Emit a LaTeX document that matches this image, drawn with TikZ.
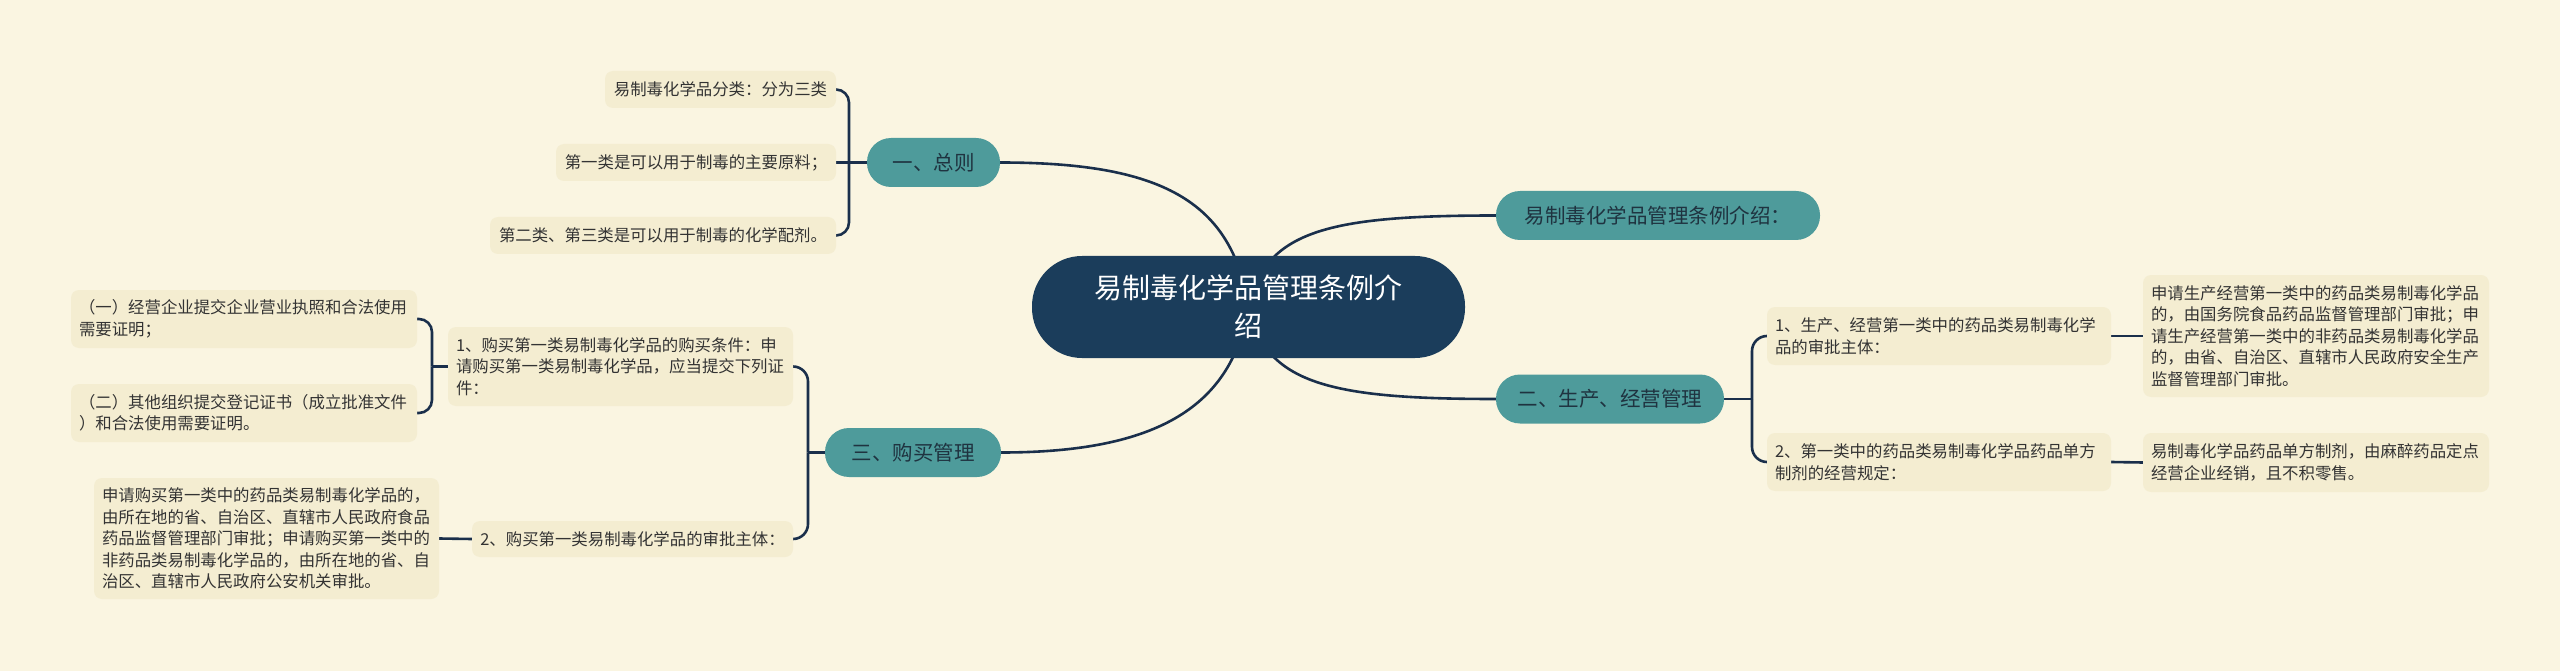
\documentclass[tikz,border=0pt]{standalone}
\usepackage{fontspec}
\setmainfont{Noto Sans CJK SC}
\definecolor{bgc}{HTML}{FAF5E1}
\definecolor{leaff}{HTML}{F4EDD1}
\definecolor{tealf}{HTML}{4E9B9B}
\definecolor{navyf}{HTML}{1B3D5B}
\definecolor{linec}{HTML}{1A2F4B}
\definecolor{txt}{HTML}{333333}
\definecolor{btxt}{HTML}{1F3340}
\pgfdeclarelayer{bg}
\pgfsetlayers{bg,main}
\tikzset{
  leaf/.style={fill=leaff, rounded corners=8pt, inner sep=0pt, text=txt,
    font=\fontsize{16.4}{21.5}\selectfont},
  multi/.style={align=left, text width=#1},
  branch/.style={fill=tealf, rounded corners=24pt, inner sep=0pt, text=btxt,
    font=\fontsize{20.5}{26}\selectfont, minimum height=49pt},
  mainnode/.style={fill=navyf, rounded corners=50pt, text=white, inner sep=0pt,
    font=\fontsize{28}{38}\selectfont, align=center,
    minimum width=433pt, minimum height=102pt},
  conn/.style={draw=linec, line width=2.6pt},
}
\begin{document}
\begin{tikzpicture}[x=1pt,y=-1pt]
\useasboundingbox (0,0) rectangle (2560,671);
% central
\node[mainnode] (main) at (1248.5,307) {易制毒化学品管理条例介\\绍};
% branches
\node[branch, minimum width=133pt] (b1) at (933.5,162.5) {一、总则};
\node[branch, minimum width=176pt] (b3) at (913,452.5) {三、购买管理};
\node[branch, minimum width=324pt] (bi) at (1658,215.5) {易制毒化学品管理条例介绍：};
\node[branch, minimum width=228pt] (b2) at (1610,399) {二、生产、经营管理};
% leaves of b1
\node[leaf, minimum width=231pt, minimum height=37pt] (a1) at (720.5,89.5) {易制毒化学品分类：分为三类};
\node[leaf, minimum width=280pt, minimum height=37pt] (a2) at (696,162.5) {第一类是可以用于制毒的主要原料；};
\node[leaf, minimum width=346pt, minimum height=37pt] (a3) at (663,235.5) {第二类、第三类是可以用于制毒的化学配剂。};
% b3 children
\node[leaf, multi=329pt, minimum width=345pt, minimum height=79pt] (m1) at (620.5,366.5)
  {1、购买第一类易制毒化学品的购买条件：申\\请购买第一类易制毒化学品，应当提交下列证\\件：};
\node[leaf, minimum width=321pt, minimum height=36pt] (m2) at (632.5,539) {2、购买第一类易制毒化学品的审批主体：};
\node[leaf, multi=330pt, minimum width=346pt, minimum height=58pt] (l1) at (244,319)
  {（一）经营企业提交企业营业执照和合法使用\\需要证明；};
\node[leaf, multi=330pt, minimum width=346pt, minimum height=58pt] (l2) at (244,413)
  {（二）其他组织提交登记证书（成立批准文件\\）和合法使用需要证明。};
\node[leaf, multi=329pt, minimum width=345pt, minimum height=121pt] (l3) at (266.5,538.5)
  {申请购买第一类中的药品类易制毒化学品的，\\由所在地的省、自治区、直辖市人民政府食品\\药品监督管理部门审批；申请购买第一类中的\\非药品类易制毒化学品的，由所在地的省、自\\治区、直辖市人民政府公安机关审批。};
% b2 children
\node[leaf, multi=328pt, minimum width=344pt, minimum height=58pt] (r1) at (1939,336)
  {1、生产、经营第一类中的药品类易制毒化学\\品的审批主体：};
\node[leaf, multi=328pt, minimum width=344pt, minimum height=58pt] (r2) at (1939,462)
  {2、第一类中的药品类易制毒化学品药品单方\\制剂的经营规定：};
\node[leaf, multi=330pt, minimum width=346pt, minimum height=122pt] (s1) at (2316,336)
  {申请生产经营第一类中的药品类易制毒化学品\\的，由国务院食品药品监督管理部门审批；申\\请生产经营第一类中的非药品类易制毒化学品\\的，由省、自治区、直辖市人民政府安全生产\\监督管理部门审批。};
\node[leaf, multi=330pt, minimum width=346pt, minimum height=59pt] (s2) at (2316,462.5)
  {易制毒化学品药品单方制剂，由麻醉药品定点\\经营企业经销，且不积零售。};
% junctions
\coordinate (j1) at (849,162.5);
\coordinate (j3) at (808,452.5);
\coordinate (jm) at (432,366.5);
\coordinate (j2) at (1752,399);
\begin{pgfonlayer}{bg}
\fill[bgc] (0,0) rectangle (2560,671);
% central curves
\draw[conn] (main.center) .. controls (1232,200) and (1160,162.5) .. (b1.east);
\draw[conn] (main.center) .. controls (1232,405) and (1160,452.5) .. (b3.east);
\draw[conn] (main.center) .. controls (1265,230) and (1330,215.5) .. (bi.west);
\draw[conn] (main.center) .. controls (1265,384) and (1330,399) .. (b2.west);
% b1 bracket
\draw[conn] (b1.west) -- (j1) -- (a2.east);
\draw[conn, rounded corners=13pt] (j1) |- (a1.east);
\draw[conn, rounded corners=13pt] (j1) |- (a3.east);
% b3 bracket
\draw[conn] (b3.west) -- (j3);
\draw[conn, rounded corners=15pt] (j3) |- (m1.east);
\draw[conn, rounded corners=15pt] (j3) |- (m2.east);
% m1 bracket
\draw[conn] (m1.west) -- (jm);
\draw[conn, rounded corners=13pt] (jm) |- (l1.east);
\draw[conn, rounded corners=13pt] (jm) |- (l2.east);
\draw[conn] (m2.west) -- (l3.east);
% b2 bracket
\draw[conn] (b2.east) -- (j2);
\draw[conn, rounded corners=15pt] (j2) |- (r1.west);
\draw[conn, rounded corners=15pt] (j2) |- (r2.west);
\draw[conn] (r1.east) -- (s1.west);
\draw[conn] (r2.east) -- (s2.west);
\end{pgfonlayer}
\end{tikzpicture}
\end{document}
